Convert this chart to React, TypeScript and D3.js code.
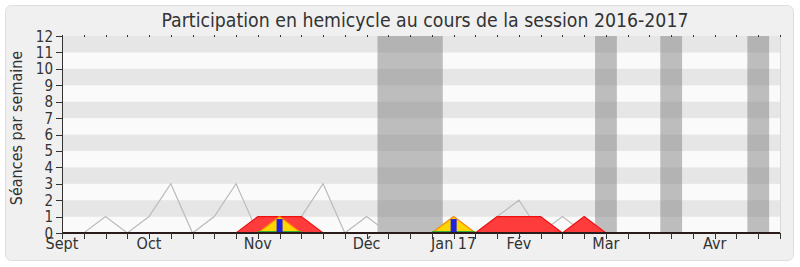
import React from "react";
import * as d3 from "d3";

const WEEKS = 33;
const allSeances = [0, 0, 1, 0, 1, 3, 0, 1, 3, 0, 1, 1, 3, 0, 1, 0, 0, 0, 1, 0, 1, 2, 0, 1, 0, 0, 0, 0, 0, 0, 0, 0, 0, 0];
const presence = [0, 0, 0, 0, 0, 0, 0, 0, 0, 1, 1, 1, 0, 0, 0, 0, 0, 0, 0, 0, 1, 1, 1, 0, 1, 0, 0, 0, 0, 0, 0, 0, 0, 0];
const interventions = [0, 0, 0, 0, 0, 0, 0, 0, 0, 0, 1, 0, 0, 0, 0, 0, 0, 0, 1, 0, 0, 0, 0, 0, 0, 0, 0, 0, 0, 0, 0, 0, 0, 0];
const questions = [0, 0, 0, 0, 0, 0, 0, 0, 0, 0, 0.85, 0, 0, 0, 0, 0, 0, 0, 0.85, 0, 0, 0, 0, 0, 0, 0, 0, 0, 0, 0, 0, 0, 0, 0];
const vacations: [number, number][] = [[14.5, 17.5], [24.5, 25.5], [27.5, 28.5], [31.5, 32.5]];
const monthLabels = ["Sept", "Oct", "Nov", "Déc", "Jan 17", "Fév", "Mar", "Avr"];
const monthWeeks = [0, 4, 9, 14, 18, 21, 25, 30];
const yTicks = [0, 1, 2, 3, 4, 5, 6, 7, 8, 9, 10, 11, 12];

const FONT = "'DejaVu Sans Condensed', 'DejaVu Sans', sans-serif";

export default function App() {
  const x = d3.scaleLinear().domain([0, WEEKS]).range([62, 780]);
  const y = d3.scaleLinear().domain([0, 12]).range([233, 36]);
  const idx = d3.range(WEEKS + 1);

  const lineGen = d3.line<number>().x((i) => x(i)).y((i) => y(allSeances[i]));
  const areaOf = (vals: number[]) =>
    d3.area<number>().x((i) => x(i)).y0(y(0)).y1((i) => y(vals[i]))(idx) || "";
  const topOf = (vals: number[]) =>
    d3.line<number>().x((i) => x(i)).y((i) => y(vals[i]))(idx) || "";

  const yellowSegs: number[][] = [];
  interventions.forEach((v, i) => {
    if (v > 0) yellowSegs.push([i - 1, i, i + 1]);
  });

  return (
    <svg width={800} height={267} style={{ position: "absolute", left: 0, top: 0 }} fontFamily={FONT}>
      <rect x={5.5} y={5.5} width={788} height={255} rx={6} fill="#F0F0F0" stroke="#DEDEDE" />
      <text x={425} y={27} textAnchor="middle" fontSize={19.3} fill="#333">
        Participation en hemicycle au cours de la session 2016-2017
      </text>
      {d3.range(12).map((k) => (
        <rect key={k} x={x(0)} width={x(WEEKS) - x(0)} y={y(k + 1)} height={y(k) - y(k + 1)}
          fill={k % 2 === 1 ? "#E6E6E6" : "#FAFAFA"} />
      ))}
      <line x1={x(WEEKS) + 0.5} x2={x(WEEKS) + 0.5} y1={y(12)} y2={y(0)} stroke="#D8D8D8" />
      {vacations.map(([a, b], k) => (
        <rect key={k} x={x(a)} width={x(b) - x(a)} y={y(12)} height={y(0) - y(12)} fill="#808080" opacity={0.5} />
      ))}
      <path d={lineGen(idx) || ""} fill="none" stroke="#BBBBBB" strokeWidth={1.2} />
      <path d={areaOf(presence)} fill="#FF3C3C" />
      <path d={topOf(presence)} fill="none" stroke="#F01010" strokeWidth={1.2} />
      {yellowSegs.map((seg, k) => {
        const a = d3.area<number>().x((i) => x(i)).y0(y(0)).y1((i) => y(interventions[i]))(seg) || "";
        const l = d3.line<number>().x((i) => x(i)).y((i) => y(interventions[i]))(seg) || "";
        return (
          <g key={k}>
            <path d={a} fill="#FFD700" />
            <path d={l} fill="none" stroke="#FF8C00" strokeWidth={1.2} />
            <line x1={x(seg[0])} x2={x(seg[2])} y1={y(0) - 1.5} y2={y(0) - 1.5} stroke="#33AA33" strokeWidth={1.2} />
          </g>
        );
      })}
      {questions.map((v, i) =>
        v > 0 ? <rect key={i} x={x(i) - 3} width={6} y={y(v)} height={y(0) - y(v)} fill="#2222DD" /> : null
      )}
      <line x1={x(0)} x2={x(WEEKS)} y1={y(0)} y2={y(0)} stroke="#2A1A1A" strokeWidth={2} />
      <line x1={x(0) + 0.5} x2={x(0) + 0.5} y1={y(12)} y2={y(0)} stroke="#333" />
      {idx.map((i) => (
        <g key={i}>
          <line x1={Math.round(x(i)) + 0.5} x2={Math.round(x(i)) + 0.5} y1={y(0)} y2={y(0) + 6} stroke="#333" />
          <line x1={Math.round(x(i)) + 0.5} x2={Math.round(x(i)) + 0.5} y1={y(12) - 1} y2={y(12) + 1} stroke="#333" />
        </g>
      ))}
      {yTicks.map((t) => (
        <g key={t}>
          <line x1={56} x2={62} y1={Math.round(y(t)) + 0.5} y2={Math.round(y(t)) + 0.5} stroke="#333" />
          <text x={53} y={y(t) + 5.5} textAnchor="end" fontSize={15} fill="#333">{t}</text>
        </g>
      ))}
      {monthLabels.map((m, k) => (
        <text key={m} x={x(monthWeeks[k])} y={249} textAnchor="middle" fontSize={16} fill="#333">{m}</text>
      ))}
      <text transform="translate(22,128) rotate(-90)" textAnchor="middle" fontSize={16} fill="#333">
        Séances par semaine
      </text>
    </svg>
  );
}
